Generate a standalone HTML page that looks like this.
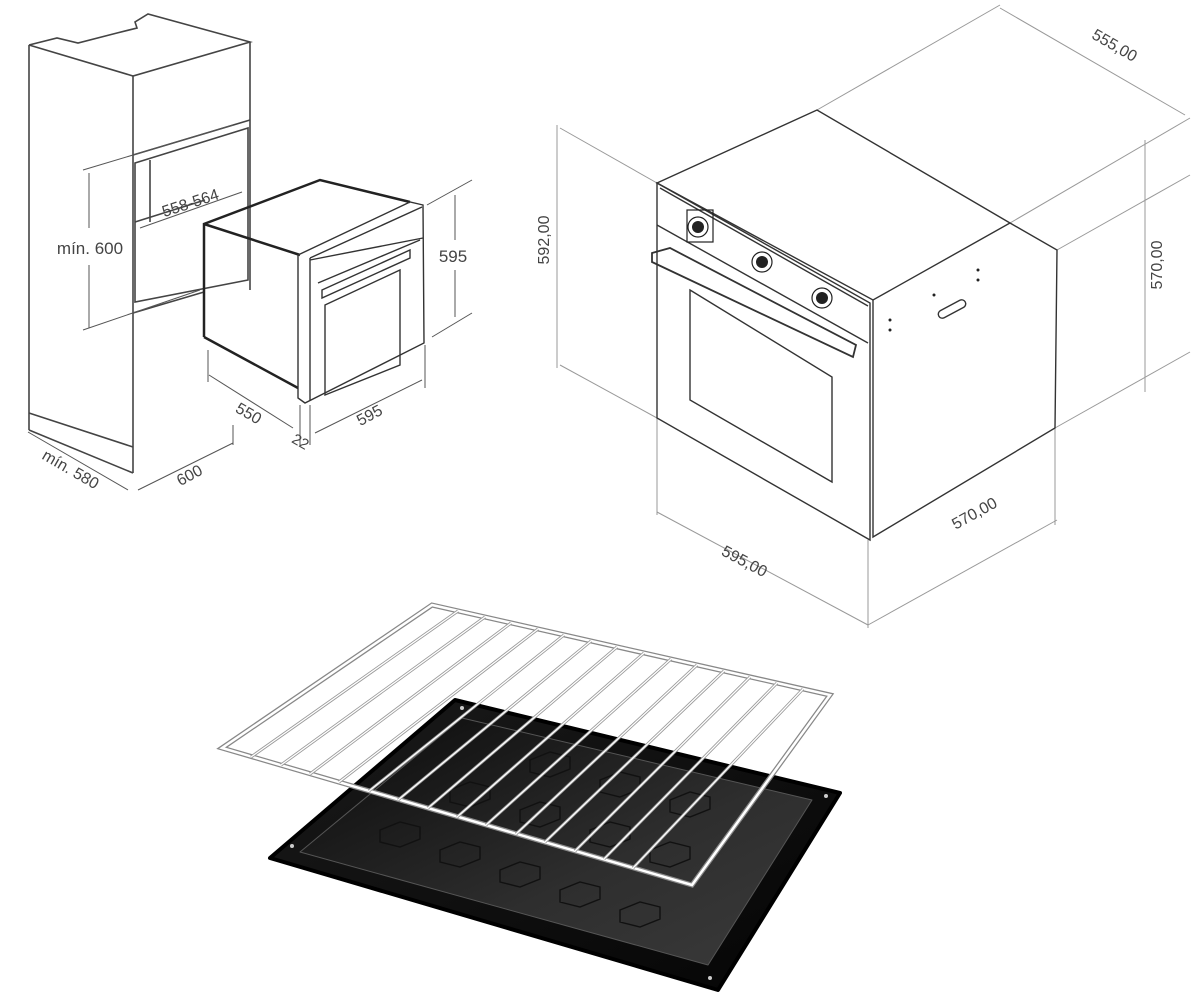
<!DOCTYPE html>
<html><head><meta charset="utf-8"><style>
html,body{margin:0;padding:0;background:#fff;}
svg{display:block;}
text{font-family:"Liberation Sans",sans-serif;fill:#444;}
</style></head><body>
<svg width="1200" height="1006" viewBox="0 0 1200 1006" xmlns="http://www.w3.org/2000/svg">
<defs>
<linearGradient id="tray" x1="0" y1="0" x2="1" y2="1">
<stop offset="0" stop-color="#1a1a1a"/><stop offset="1" stop-color="#050505"/>
</linearGradient>
<linearGradient id="trayin" x1="0" y1="0" x2="1" y2="1">
<stop offset="0" stop-color="#0a0a0a"/><stop offset="0.6" stop-color="#2e2e2e"/><stop offset="1" stop-color="#3a3a3a"/>
</linearGradient>
</defs>
<!-- LEFT: cabinet -->
<g fill="none" stroke="#444" stroke-width="1.6">
<polyline points="29,45 57,38 78,43 117,33 137,28 135,22 148,14 250,42 133,76 29,45"/>
<line x1="29" y1="45" x2="29" y2="430"/>
<line x1="133" y1="76" x2="133" y2="473"/>
<line x1="250" y1="42" x2="250" y2="290"/>
<line x1="29" y1="413" x2="133" y2="447"/>
<line x1="29" y1="430" x2="133" y2="473"/>
<line x1="133" y1="155" x2="250" y2="120"/>
<polygon points="135,163 248,128 248,280 135,302"/>
<line x1="150" y1="160" x2="150" y2="222"/>
<line x1="135" y1="222" x2="205" y2="200"/>
<line x1="133" y1="313" x2="204" y2="292"/>
</g>
<!-- dims left cabinet -->
<g fill="none" stroke="#555" stroke-width="1">
<line x1="83" y1="170" x2="233" y2="125"/>
<line x1="83" y1="330" x2="200" y2="290"/>
<line x1="89" y1="173" x2="89" y2="228"/>
<line x1="89" y1="265" x2="89" y2="328"/>
<line x1="140" y1="228" x2="242" y2="192"/>
<line x1="28" y1="432" x2="128" y2="490"/>
<line x1="138" y1="490" x2="233" y2="443"/>
<line x1="233" y1="425" x2="233" y2="445"/>
<line x1="208" y1="350" x2="208" y2="382"/>
<line x1="209" y1="375" x2="293" y2="428"/>
<line x1="300" y1="405" x2="300" y2="445"/>
<line x1="310" y1="405" x2="310" y2="445"/>
<line x1="315" y1="433" x2="422" y2="380"/>
<line x1="425" y1="345" x2="425" y2="388"/>
<line x1="427" y1="205" x2="472" y2="180"/>
<line x1="432" y1="337" x2="472" y2="313"/>
<line x1="455" y1="195" x2="455" y2="240"/>
<line x1="455" y1="270" x2="455" y2="317"/>
</g>
<text x="90" y="254" font-size="17" text-anchor="middle">mín. 600</text>
<text x="192" y="208" font-size="16" text-anchor="middle" transform="rotate(-18 192 208)">558-564</text>
<text x="453" y="262" font-size="17" text-anchor="middle">595</text>
<text x="246" y="418" font-size="16" text-anchor="middle" transform="rotate(30 246 418)">550</text>
<text x="298" y="446" font-size="15" text-anchor="middle" transform="rotate(30 298 446)">22</text>
<text x="372" y="420" font-size="16" text-anchor="middle" transform="rotate(-28 372 420)">595</text>
<text x="68" y="474" font-size="16" text-anchor="middle" transform="rotate(30 68 474)">mín. 580</text>
<text x="192" y="480" font-size="16" text-anchor="middle" transform="rotate(-28 192 480)">600</text>
<!-- oven box left -->
<g fill="none" stroke="#222" stroke-width="2.5">
<polyline points="204,337 204,224 320,180 410,202"/>
<line x1="204" y1="224" x2="300" y2="255"/>
<line x1="204" y1="337" x2="298" y2="388"/>
</g>
<g fill="none" stroke="#333" stroke-width="1.4">
<polygon points="298,255 410,202 423,205 424,343 305,403 298,398"/>
<line x1="310" y1="258" x2="422" y2="207"/>
<line x1="310" y1="258" x2="310" y2="400"/>
<line x1="310" y1="260" x2="423" y2="238"/>
<line x1="318" y1="283" x2="420" y2="240"/>
<polygon points="322,290 410,250 410,258 322,298"/>
<polygon points="325,305 400,270 400,365 325,395"/>
</g>
<!-- RIGHT OVEN dims -->
<g fill="none" stroke="#999" stroke-width="1">
<line x1="657" y1="183" x2="560" y2="128"/>
<line x1="657" y1="418" x2="560" y2="365"/>
<line x1="557" y1="125" x2="557" y2="368"/>
<line x1="817" y1="110" x2="1000" y2="5"/>
<line x1="1010" y1="223" x2="1190" y2="118"/>
<line x1="1000" y1="8" x2="1185" y2="115"/>
<line x1="1057" y1="250" x2="1190" y2="175"/>
<line x1="1055" y1="428" x2="1190" y2="352"/>
<line x1="1145" y1="140" x2="1145" y2="392"/>
<line x1="657" y1="418" x2="657" y2="515"/>
<line x1="868" y1="540" x2="868" y2="628"/>
<line x1="1055" y1="428" x2="1055" y2="525"/>
<line x1="657" y1="512" x2="868" y2="625"/>
<line x1="868" y1="625" x2="1057" y2="520"/>
</g>
<text x="1112" y="50" font-size="16" fill="#555" text-anchor="middle" transform="rotate(30 1112 50)">555,00</text>
<text x="549" y="240" font-size="16" text-anchor="middle" transform="rotate(-90 549 240)">592,00</text>
<text x="1162" y="265" font-size="16" text-anchor="middle" transform="rotate(-90 1162 265)">570,00</text>
<text x="742" y="566" font-size="16" text-anchor="middle" transform="rotate(28 742 566)">595,00</text>
<text x="977" y="518" font-size="16" text-anchor="middle" transform="rotate(-29 977 518)">570,00</text>
<!-- right oven -->
<g fill="none" stroke="#333" stroke-width="1.4">
<polygon points="657,183 817,110 1010,223 873,300"/>
<polygon points="657,183 870,303 870,540 657,418"/>
<polyline points="873,300 873,537 1055,428 1057,250 1010,223"/>
<line x1="657" y1="225" x2="868" y2="343"/>
<line x1="660" y1="188" x2="868" y2="306"/>
<polygon points="652,253 670,248 856,345 853,357 652,262" stroke-width="1.8"/>
<polygon points="690,290 832,377 832,482 690,400"/>
<rect x="937" y="305" width="30" height="8" rx="4" transform="rotate(-28 952 309)"/>
</g>
<g fill="#222">
<circle cx="698" cy="227" r="6"/><circle cx="762" cy="262" r="6"/><circle cx="822" cy="298" r="6"/>
<circle cx="890" cy="320" r="1.5"/><circle cx="890" cy="330" r="1.5"/><circle cx="934" cy="295" r="1.5"/><circle cx="978" cy="270" r="1.5"/><circle cx="978" cy="280" r="1.5"/>
</g>
<g fill="none" stroke="#222" stroke-width="1.2">
<circle cx="698" cy="227" r="10"/><circle cx="762" cy="262" r="10"/><circle cx="822" cy="298" r="10"/>
<rect x="687" y="210" width="26" height="32"/>
</g>
<!-- TRAY -->
<polygon points="270,858 455,700 840,793 718,990" fill="url(#tray)" stroke="#000" stroke-width="4" stroke-linejoin="round"/>
<polygon points="300,852 462,718 812,800 708,965" fill="url(#trayin)" stroke="#555" stroke-width="1" stroke-linejoin="round"/>
<g fill="none" stroke="#111" stroke-width="1.4">
<path d="M380,830 l20,-8 l20,5 l0,12 l-20,8 l-20,-5z M440,850 l20,-8 l20,5 l0,12 l-20,8 l-20,-5z M500,870 l20,-8 l20,5 l0,12 l-20,8 l-20,-5z M560,890 l20,-8 l20,5 l0,12 l-20,8 l-20,-5z M620,910 l20,-8 l20,5 l0,12 l-20,8 l-20,-5z M450,790 l20,-8 l20,5 l0,12 l-20,8 l-20,-5z M520,810 l20,-8 l20,5 l0,12 l-20,8 l-20,-5z M590,830 l20,-8 l20,5 l0,12 l-20,8 l-20,-5z M650,850 l20,-8 l20,5 l0,12 l-20,8 l-20,-5z M530,760 l20,-8 l20,5 l0,12 l-20,8 l-20,-5z M600,780 l20,-8 l20,5 l0,12 l-20,8 l-20,-5z M670,800 l20,-8 l20,5 l0,12 l-20,8 l-20,-5z"/>
</g>
<g fill="#ccc"><circle cx="292" cy="846" r="2"/><circle cx="462" cy="708" r="2"/><circle cx="826" cy="796" r="2"/><circle cx="710" cy="978" r="2"/></g>
<!-- RACK -->
<g fill="none">
<polygon points="222,748 432,605 830,695 692,885" stroke="#888" stroke-width="5"/>
<polygon points="222,748 432,605 830,695 692,885" stroke="#fff" stroke-width="2.5"/>
<g stroke="#999" stroke-width="3">
<line x1="458" y1="611" x2="251" y2="757"/>
<line x1="485" y1="617" x2="281" y2="765"/>
<line x1="511" y1="623" x2="310" y2="774"/>
<line x1="538" y1="629" x2="339" y2="782"/>
<line x1="564" y1="635" x2="369" y2="791"/>
<line x1="591" y1="641" x2="398" y2="800"/>
<line x1="617" y1="647" x2="428" y2="808"/>
<line x1="644" y1="653" x2="457" y2="817"/>
<line x1="671" y1="659" x2="486" y2="825"/>
<line x1="697" y1="665" x2="516" y2="834"/>
<line x1="724" y1="671" x2="545" y2="842"/>
<line x1="750" y1="677" x2="575" y2="851"/>
<line x1="777" y1="683" x2="604" y2="859"/>
<line x1="803" y1="689" x2="633" y2="868"/>
</g>
<g stroke="#fff" stroke-width="1.3">
<line x1="458" y1="611" x2="251" y2="757"/>
<line x1="485" y1="617" x2="281" y2="765"/>
<line x1="511" y1="623" x2="310" y2="774"/>
<line x1="538" y1="629" x2="339" y2="782"/>
<line x1="564" y1="635" x2="369" y2="791"/>
<line x1="591" y1="641" x2="398" y2="800"/>
<line x1="617" y1="647" x2="428" y2="808"/>
<line x1="644" y1="653" x2="457" y2="817"/>
<line x1="671" y1="659" x2="486" y2="825"/>
<line x1="697" y1="665" x2="516" y2="834"/>
<line x1="724" y1="671" x2="545" y2="842"/>
<line x1="750" y1="677" x2="575" y2="851"/>
<line x1="777" y1="683" x2="604" y2="859"/>
<line x1="803" y1="689" x2="633" y2="868"/>
</g>
</g>
</svg>
</body></html>
